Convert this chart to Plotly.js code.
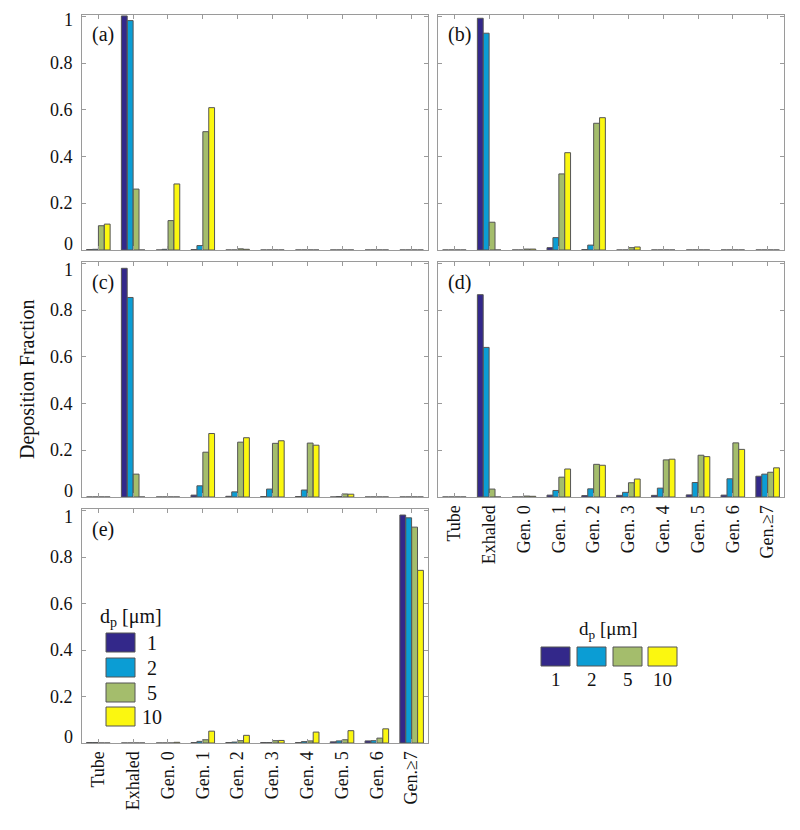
<!DOCTYPE html>
<html>
<head>
<meta charset="utf-8">
<script src="https://cdn.plot.ly/plotly-3.0.1.min.js"></script>
<style>html,body{margin:0;padding:0;background:#fff;}#chart{width:800px;height:830px;}</style>
</head>
<body>
<div id="chart"></div>
<script>
// ---------- data ----------
const categories = ["Tube", "Exhaled", "Gen. 0", "Gen. 1", "Gen. 2", "Gen. 3", "Gen. 4", "Gen. 5", "Gen. 6", "Gen.≥7"];
const sizes = ["1", "2", "5", "10"];
const colors = ["#33288a", "#0b9dd4", "#a4bd6c", "#fbf710"];
const panelLabels = ["(a)", "(b)", "(c)", "(d)", "(e)"];
const yTickVals = [0, 0.2, 0.4, 0.6, 0.8, 1];
const yTickText = ["0", "0.2", "0.4", "0.6", "0.8", "1"];

// panel (a)
const a_dp1  = [0.002, 1.003, 0.000, 0.002, 0.000, 0, 0, 0, 0, 0];
const a_dp2  = [0.003, 0.983, 0.003, 0.019, 0.000, 0, 0, 0, 0, 0];
const a_dp5  = [0.104, 0.261, 0.126, 0.507, 0.005, 0, 0, 0, 0, 0];
const a_dp10 = [0.111, 0.000, 0.283, 0.610, 0.003, 0, 0, 0, 0, 0];
// panel (b)
const b_dp1  = [0, 0.993, 0.000, 0.010, 0.002, 0.000, 0, 0, 0, 0];
const b_dp2  = [0, 0.929, 0.000, 0.053, 0.021, 0.000, 0, 0, 0, 0];
const b_dp5  = [0, 0.119, 0.004, 0.326, 0.543, 0.010, 0, 0, 0, 0];
const b_dp10 = [0, 0.000, 0.004, 0.417, 0.567, 0.013, 0, 0, 0, 0];
// panel (c)
const c_dp1  = [0, 0.980, 0, 0.008, 0.003, 0.002, 0.002, 0.000, 0, 0];
const c_dp2  = [0, 0.855, 0, 0.048, 0.022, 0.034, 0.030, 0.002, 0, 0];
const c_dp5  = [0, 0.098, 0, 0.192, 0.235, 0.230, 0.231, 0.013, 0, 0];
const c_dp10 = [0, 0.000, 0, 0.272, 0.254, 0.241, 0.222, 0.012, 0, 0];
// panel (d)
const d_dp1  = [0, 0.867, 0.000, 0.008, 0.006, 0.007, 0.007, 0.009, 0.008, 0.089];
const d_dp2  = [0, 0.641, 0.000, 0.028, 0.035, 0.020, 0.038, 0.062, 0.078, 0.098];
const d_dp5  = [0, 0.034, 0.004, 0.085, 0.140, 0.061, 0.159, 0.179, 0.232, 0.106];
const d_dp10 = [0, 0.000, 0.003, 0.120, 0.136, 0.077, 0.162, 0.173, 0.204, 0.125];
// panel (e)
const e_dp1  = [0.002, 0, 0.000, 0.002, 0.002, 0.002, 0.002, 0.005, 0.009, 0.981];
const e_dp2  = [0.002, 0, 0.000, 0.007, 0.004, 0.002, 0.006, 0.009, 0.010, 0.969];
const e_dp5  = [0.000, 0, 0.000, 0.014, 0.010, 0.010, 0.009, 0.014, 0.021, 0.929];
const e_dp10 = [0.000, 0, 0.003, 0.051, 0.033, 0.011, 0.047, 0.053, 0.061, 0.743];

const panels = [
  [a_dp1, a_dp2, a_dp5, a_dp10],
  [b_dp1, b_dp2, b_dp5, b_dp10],
  [c_dp1, c_dp2, c_dp5, c_dp10],
  [d_dp1, d_dp2, d_dp5, d_dp10],
  [e_dp1, e_dp2, e_dp5, e_dp10]
];

// ---------- layout helpers ----------
const W = 800, H = 830;
const px = x => x / W;
const py = y => 1 - y / H;
const FONT = '"Liberation Serif", "Times New Roman", Times, serif';

// pixel boxes of each panel [left, right, top, bottom]
const boxes = [
  [82, 428, 15, 250],
  [438, 784, 15, 250],
  [82, 428, 262, 497],
  [438, 784, 262, 497],
  [82, 428, 509, 743]
];
const showYLabels = [true, false, true, false, true];
const showXLabels = [false, false, false, true, true];

const traces = [];
const layout = {
  width: W, height: H,
  margin: {l: 0, r: 0, t: 0, b: 0},
  paper_bgcolor: "#ffffff",
  plot_bgcolor: "#ffffff",
  barmode: "group",
  bargap: 0.32,
  bargroupgap: 0.02,
  showlegend: false,
  font: {family: FONT, size: 18, color: "#111"},
  annotations: [],
  shapes: []
};

panels.forEach((series, p) => {
  const sfx = p === 0 ? "" : String(p + 1);
  series.forEach((vals, s) => {
    traces.push({
      type: "bar",
      x: categories,
      y: vals,
      name: sizes[s],
      xaxis: "x" + sfx,
      yaxis: "y" + sfx,
      marker: {color: colors[s], line: {color: "#555555", width: 1}},
      showlegend: false,
      hoverinfo: "x+y+name"
    });
  });
  const b = boxes[p];
  layout["xaxis" + sfx] = {
    domain: [px(b[0]), px(b[1])],
    anchor: "y" + sfx,
    type: "category",
    range: [-0.47, 9.47],
    showline: true, linecolor: "#9a9a9a", linewidth: 1,
    mirror: "ticks",
    ticks: "inside", ticklen: 4, tickcolor: "#9a9a9a",
    showgrid: false, zeroline: false,
    showticklabels: showXLabels[p],
    tickangle: -90,
    tickfont: {family: FONT, size: 18, color: "#111"},
    fixedrange: true
  };
  layout["yaxis" + sfx] = {
    domain: [py(b[3]), py(b[2])],
    anchor: "x" + sfx,
    range: [0, 1.007],
    tickvals: yTickVals,
    showline: true, linecolor: "#9a9a9a", linewidth: 1,
    mirror: "ticks",
    ticks: "inside", ticklen: 4, tickcolor: "#9a9a9a",
    showgrid: false, zeroline: false,
    showticklabels: false,
    fixedrange: true
  };
  // y tick labels (MATLAB-style: end labels pulled inward)
  if (showYLabels[p]) {
    yTickVals.forEach((v, k) => {
      let shift = 0;
      if (k === 0) shift = 6;
      if (k === yTickVals.length - 1) shift = (p === 0 ? -3 : -6);
      layout.annotations.push({
        xref: "paper", yref: "y" + sfx,
        x: px(b[0] - 7), y: v, yshift: shift,
        xanchor: "right", yanchor: "middle", showarrow: false,
        text: yTickText[k],
        font: {family: FONT, size: 18, color: "#111"}
      });
    });
  }
  layout.annotations.push({
    xref: "paper", yref: "paper",
    x: px(b[0] + 21), y: py(b[2] + 20),
    xanchor: "center", yanchor: "middle",
    text: panelLabels[p], showarrow: false,
    font: {family: FONT, size: 20, color: "#111"}
  });
});

// y-axis title
layout.annotations.push({
  xref: "paper", yref: "paper",
  x: px(28), y: py(380),
  xanchor: "center", yanchor: "middle",
  text: "Deposition Fraction", textangle: -90, showarrow: false,
  font: {family: FONT, size: 20, color: "#111"}
});

// legend inside panel (e): vertical
layout.annotations.push({
  xref: "paper", yref: "paper", x: px(131), y: py(617),
  xanchor: "center", yanchor: "middle", showarrow: false,
  text: "d<sub>p</sub> [μm]", font: {family: FONT, size: 20, color: "#111"}
});
const legRows = [633, 658, 683, 707];
sizes.forEach((s, i) => {
  layout.shapes.push({
    type: "rect", xref: "paper", yref: "paper",
    x0: px(106), x1: px(135), y0: py(legRows[i] + 19), y1: py(legRows[i]),
    fillcolor: colors[i], line: {color: "#555555", width: 1}
  });
  layout.annotations.push({
    xref: "paper", yref: "paper", x: px(152), y: py(legRows[i] + 10),
    xanchor: "center", yanchor: "middle", showarrow: false,
    text: s, font: {family: FONT, size: 20, color: "#111"}
  });
});

// legend on the right: horizontal
layout.annotations.push({
  xref: "paper", yref: "paper", x: px(608), y: py(630),
  xanchor: "center", yanchor: "middle", showarrow: false,
  text: "d<sub>p</sub> [μm]", font: {family: FONT, size: 19, color: "#111"}
});
const legCols = [541, 577, 613, 648];
sizes.forEach((s, i) => {
  layout.shapes.push({
    type: "rect", xref: "paper", yref: "paper",
    x0: px(legCols[i]), x1: px(legCols[i] + 29), y0: py(666), y1: py(647),
    fillcolor: colors[i], line: {color: "#555555", width: 1}
  });
  layout.annotations.push({
    xref: "paper", yref: "paper", x: px(legCols[i] + 14.5), y: py(679),
    xanchor: "center", yanchor: "middle", showarrow: false,
    text: s, font: {family: FONT, size: 19, color: "#111"}
  });
});

Plotly.newPlot("chart", traces, layout, {staticPlot: true, displayModeBar: false});
</script>
</body>
</html>
